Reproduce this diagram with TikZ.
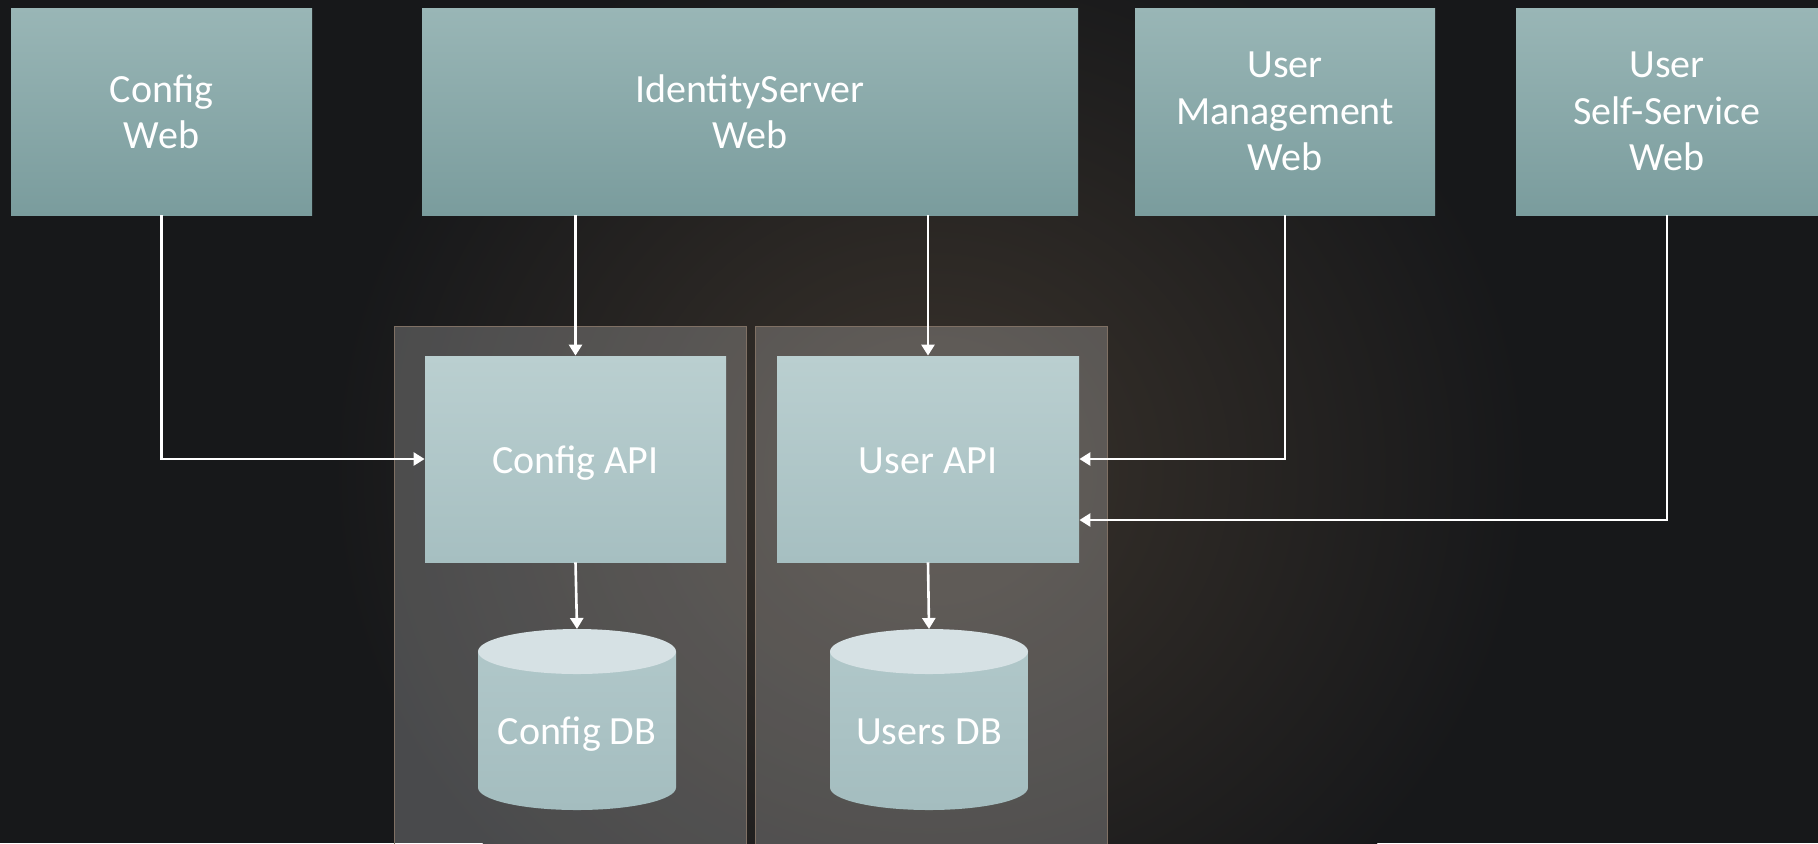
\documentclass[tikz,border=0pt]{standalone}
\usepackage{fontspec}
\setmainfont{Carlito}
\usetikzlibrary{arrows.meta}
\definecolor{bg}{HTML}{17181A}
\definecolor{throne}{HTML}{3A332C}
\definecolor{webtop}{HTML}{99B6B6}
\definecolor{webbot}{HTML}{7A9C9D}
\definecolor{apitop}{HTML}{BACFD0}
\definecolor{apibot}{HTML}{A6BFC1}
\definecolor{dbbody}{HTML}{B0C7C9}
\definecolor{dbbodybot}{HTML}{A4BDBF}
\definecolor{dbtop}{HTML}{D6E1E4}
\definecolor{contedge}{HTML}{7F7064}
\begin{document}
\begin{tikzpicture}[x=0.5pt,y=-0.5pt,
  lbl/.style={text=white, align=center, font=\fontsize{20}{23.2}\selectfont, inner sep=0pt},
  webbox/.style={lbl, rectangle, top color=webtop, bottom color=webbot, minimum height=103.5pt},
  apibox/.style={lbl, rectangle, top color=apitop, bottom color=apibot, minimum height=103pt, text height=14pt, text depth=0pt},
  contbox/.style={rectangle, draw=contedge, line width=0.5pt, fill=white, fill opacity=0.22, minimum width=176pt, minimum height=277pt, inner sep=0pt},
  conn/.style={draw=white, line width=1.3pt, -{Triangle[length=5.5pt,width=6.5pt]}}]
\useasboundingbox (0,0) rectangle (1818,843);
\fill[bg] (0,0) rectangle (1818,843);
\shade[inner color=throne, outer color=bg] (930,470) ellipse [x radius=300pt, y radius=280pt];

% containers
\node[contbox] (contL) at (570,603) {};
\node[contbox] (contR) at (931,603) {};

% web boxes
\node[webbox, minimum width=150.5pt] (cweb) at (161.5,111.5) {Config\\Web};
\node[webbox, minimum width=328pt] (isweb) at (750,111.5) {IdentityServer\\Web};
\node[webbox, minimum width=150pt] (umweb) at (1285,111.5) {User\\Management\\Web};
\node[webbox, minimum width=151pt] (ssweb) at (1667,111.5) {User\\Self-Service\\Web};

% api boxes
\node[apibox, minimum width=150.5pt] (capi) at (575.5,459) {Config API};
\node[apibox, minimum width=151pt] (uapi) at (928,459) {User API};

% databases
\foreach \cx in {577, 929}{
  \shade[top color=dbbody, bottom color=dbbodybot]
    (\cx-99,651.5) -- (\cx-99,787.5)
    arc[start angle=180, end angle=360, x radius=49.5pt, y radius=11.25pt]
    -- (\cx+99,651.5) -- cycle;
  \fill[dbtop] (\cx,651.5) ellipse [x radius=49.5pt, y radius=11.25pt];
}
\node[lbl, anchor=base] (cdb) at (577,744) {Config DB};
\node[lbl, anchor=base] (udb) at (929,744) {Users DB};
\coordinate (cdbtop) at (577,629);
\coordinate (udbtop) at (929,629);
\coordinate (uin2) at (uapi.east |- 0,520);

% connectors
\draw[conn] (capi.north |- isweb.south) -- (capi.north);
\draw[conn] (uapi.north |- isweb.south) -- (uapi.north);
\draw[conn] (cweb.south) |- (capi.west);
\draw[conn] (umweb.south) |- (uapi.east);
\draw[conn] (ssweb.south) |- (uin2);
\draw[conn] (capi.south) -- (cdbtop);
\draw[conn] (uapi.south) -- (udbtop);
\end{tikzpicture}
\end{document}
